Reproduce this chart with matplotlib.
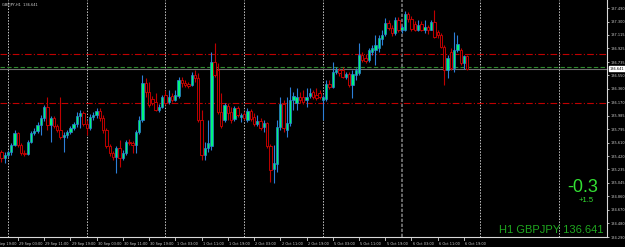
import numpy as np
import pandas as pd
import matplotlib
matplotlib.use("Agg")
import matplotlib.pyplot as plt
import matplotlib.transforms as mtransforms

# ── GBPJPY H1 bars, first bar 28 Sep 22:00 ─────────────────────────
opens = [135.48, 135.39, 135.44, 135.48, 135.58, 135.74, 135.58, 135.46, 135.45, 135.62,
         135.74, 135.77, 135.86, 135.95, 136.11, 135.86, 135.95, 135.84, 135.79, 135.69,
         135.72, 135.76, 135.81, 135.87, 135.98, 136.02, 135.87, 135.81, 135.97, 136.00,
         136.05, 135.95, 135.79, 135.56, 135.46, 135.41, 135.53, 135.39, 135.46, 135.62,
         135.60, 135.58, 135.76, 135.93, 136.44, 136.32, 136.22, 136.18, 136.07, 136.11,
         136.27, 136.18, 136.26, 136.21, 136.26, 136.48, 136.44, 136.43, 136.41, 136.55,
         136.51, 135.93, 135.44, 135.53, 135.56, 136.74, 136.62, 136.04, 135.93, 136.12,
         136.04, 135.94, 136.09, 135.97, 136.01, 135.93, 136.05, 135.97, 135.87, 135.91,
         135.83, 135.88, 135.56, 135.24, 135.31, 135.83, 136.15, 135.79, 135.88, 136.21,
         136.16, 136.25, 136.25, 136.21, 136.26, 136.32, 136.27, 136.30, 136.21, 136.22,
         136.43, 136.39, 136.60, 136.62, 136.62, 136.53, 136.57, 136.41, 136.55, 136.58,
         136.83, 136.79, 136.76, 136.88, 136.90, 136.93, 137.06, 137.13, 137.28, 137.21,
         137.14, 137.32, 137.18, 137.18, 137.41, 137.34, 137.27, 137.18, 137.27, 137.18,
         137.23, 137.18, 137.30, 137.16, 137.11, 136.95, 136.62, 136.88, 136.65, 136.90,
         136.90, 136.72, 136.82]
highs = [135.51, 135.48, 135.51, 135.60, 135.79, 135.76, 135.60, 135.51, 135.65, 135.77,
         135.81, 135.90, 136.00, 136.14, 136.25, 135.98, 135.98, 135.87, 136.25, 135.76,
         135.79, 135.84, 135.90, 136.04, 136.07, 136.05, 135.93, 136.01, 136.04, 136.09,
         136.09, 136.00, 135.81, 135.59, 135.49, 135.56, 135.65, 135.51, 135.65, 135.66,
         135.63, 135.79, 135.98, 136.55, 136.51, 136.46, 136.26, 136.30, 136.15, 136.27,
         136.34, 136.34, 136.30, 136.34, 136.53, 136.53, 136.48, 136.46, 136.60, 136.62,
         136.58, 136.07, 135.62, 135.93, 136.88, 137.00, 136.72, 136.30, 136.16, 136.16,
         136.11, 136.12, 136.12, 136.02, 136.05, 136.09, 136.08, 136.02, 136.00, 135.95,
         135.93, 135.90, 135.59, 135.58, 135.93, 136.25, 136.21, 136.25, 136.39, 136.32,
         136.37, 136.32, 136.34, 136.37, 136.37, 136.34, 136.37, 136.34, 136.27, 136.48,
         136.48, 136.74, 136.67, 136.65, 136.67, 136.60, 136.60, 136.62, 136.65, 137.00,
         136.88, 136.85, 136.93, 136.97, 137.11, 137.11, 137.18, 137.35, 137.32, 137.25,
         137.36, 137.36, 137.25, 137.45, 137.43, 137.38, 137.31, 137.32, 137.31, 137.32,
         137.25, 137.32, 137.46, 137.18, 137.14, 136.97, 136.83, 136.93, 137.16, 137.11,
         136.93, 136.83, 136.83]
lows = [135.34, 135.32, 135.41, 135.44, 135.56, 135.55, 135.44, 135.42, 135.44, 135.60,
        135.72, 135.74, 135.72, 135.91, 135.79, 135.62, 135.81, 135.76, 135.66, 135.48,
        135.67, 135.73, 135.79, 135.83, 135.81, 135.84, 135.72, 135.79, 135.93, 135.95,
        135.91, 135.74, 135.53, 135.42, 135.37, 135.18, 135.27, 135.37, 135.44, 135.58,
        135.46, 135.46, 135.73, 135.90, 136.25, 136.11, 136.14, 136.05, 136.04, 136.09,
        136.14, 136.15, 136.18, 136.19, 136.23, 136.39, 136.39, 136.37, 136.40, 136.46,
        135.90, 135.37, 135.37, 135.48, 135.51, 136.53, 136.01, 135.81, 135.90, 135.93,
        135.88, 135.91, 135.97, 135.90, 135.93, 135.90, 135.91, 135.84, 135.84, 135.79,
        135.76, 135.53, 135.06, 135.05, 135.20, 135.79, 135.76, 135.69, 135.84, 136.07,
        136.07, 136.16, 136.15, 136.11, 136.23, 136.22, 136.21, 136.22, 135.93, 136.19,
        136.36, 136.37, 136.57, 136.54, 136.51, 136.50, 136.39, 136.23, 136.48, 136.55,
        136.74, 136.72, 136.74, 136.83, 136.69, 136.88, 136.97, 137.10, 137.18, 137.10,
        137.11, 137.16, 137.14, 137.17, 137.30, 137.17, 137.17, 137.17, 137.17, 137.14,
        137.13, 137.18, 137.07, 137.07, 136.93, 136.41, 136.51, 136.62, 136.60, 136.88,
        136.69, 136.64, 136.62]
closes = [135.39, 135.44, 135.48, 135.58, 135.74, 135.58, 135.46, 135.45, 135.62, 135.74,
          135.77, 135.86, 135.95, 136.11, 135.86, 135.95, 135.84, 135.79, 135.69, 135.72,
          135.76, 135.81, 135.87, 135.98, 136.02, 135.87, 135.81, 135.97, 136.00, 136.05,
          135.95, 135.79, 135.56, 135.46, 135.41, 135.53, 135.39, 135.46, 135.62, 135.60,
          135.58, 135.76, 135.93, 136.44, 136.32, 136.14, 136.16, 136.07, 136.11, 136.25,
          136.16, 136.25, 136.21, 136.27, 136.48, 136.44, 136.41, 136.40, 136.55, 136.51,
          135.93, 135.44, 135.53, 135.60, 136.74, 136.55, 136.04, 135.84, 136.14, 136.02,
          135.93, 136.09, 136.00, 136.00, 135.95, 136.05, 135.94, 135.87, 135.91, 135.81,
          135.88, 135.56, 135.23, 135.32, 135.83, 136.15, 135.81, 135.88, 136.21, 136.26,
          136.25, 136.21, 136.18, 136.25, 136.30, 136.25, 136.23, 136.25, 136.25, 136.43,
          136.39, 136.60, 136.62, 136.58, 136.53, 136.57, 136.41, 136.57, 136.62, 136.83,
          136.76, 136.75, 136.90, 136.93, 136.97, 137.07, 137.11, 137.28, 137.21, 137.14,
          137.32, 137.18, 137.23, 137.41, 137.34, 137.20, 137.18, 137.25, 137.18, 137.23,
          137.18, 137.30, 137.09, 137.11, 136.95, 136.62, 136.79, 136.65, 136.90, 136.99,
          136.72, 136.82, 136.641]

first_bar = "2020-09-28 22:00"
bid = 136.641
level_up = 136.843
level_down = 136.158
level_green = 136.666
y_ticks = [137.490, 137.300, 137.115, 136.925, 136.735, 136.550, 136.360, 136.170,
           135.985, 135.795, 135.610, 135.420, 135.235, 135.045, 134.860, 134.670,
           134.480, 134.290]

# ── Style ──────────────────────────────────────────────────────────
BG = "black"
C_BULL = "#00F57A"
C_BULL_EDGE = "#2C7FD8"
C_BEAR_EDGE = "#C00000"
C_AXIS = "#D8D8D8"
C_TXT = "#D0D0D0"
C_INFO = "#33E033"
C_INFO2 = "#1FA71F"
FS_TICK = 2.5

# trading-hour slots (no weekend), x origin at 29 Sep 00:00
slots = pd.date_range("2020-09-28 00:00", "2020-10-08 00:00", freq="h")
slots = slots[slots.dayofweek < 5]
slot_x = np.arange(len(slots)) - slots.get_loc(pd.Timestamp("2020-09-29 00:00"))
x0 = slot_x[slots.get_loc(pd.Timestamp(first_bar))]
n = len(closes)
bx = x0 + np.arange(n)

o = np.array(opens); h = np.array(highs); l = np.array(lows); c = np.array(closes)
up = c >= o

fig = plt.figure(figsize=(6.25, 2.47), dpi=100)
fig.patch.set_facecolor(BG)
ax = fig.add_axes([0, 10 / 247, 607 / 625, 237 / 247])
ax.set_facecolor(BG)
ax.set_xlim(-2.44, 182.6)
ax.set_ylim(134.290, 137.602)

# day separators
for t, xs in zip(slots, slot_x):
    if t.hour == 0 and -2 < xs < 182:
        if t.day == 6:
            ax.axvline(xs, color="#7A7A7A", lw=1.2, ls=(0, (2, 1)), zorder=1)
        else:
            ax.axvline(xs, color="#C8C8C8", lw=0.7, ls=(0, (1.5, 1.5)), zorder=1)

# levels
ax.axhline(level_up, color="#C00000", lw=0.8, ls=(0, (6, 2, 1, 2)), zorder=1)
ax.axhline(level_down, color="#C00000", lw=0.8, ls=(0, (6, 2, 1, 2)), zorder=1)
ax.axhline(level_green, color="#2E8B2E", lw=0.8, ls=(0, (4, 2)), zorder=1)
ax.axhline(bid, color="#707070", lw=0.8, zorder=1)

# candles
ax.vlines(bx[up], l[up], h[up], color=C_BULL_EDGE, lw=0.8, zorder=2)
ax.vlines(bx[~up], l[~up], h[~up], color=C_BEAR_EDGE, lw=0.8, zorder=2)
ax.bar(bx[up], c[up] - o[up], bottom=o[up], width=0.72, color=C_BULL,
       edgecolor=C_BULL_EDGE, linewidth=0.5, zorder=3)
ax.bar(bx[~up], c[~up] - o[~up], bottom=o[~up], width=0.72, color=BG,
       edgecolor=C_BEAR_EDGE, linewidth=0.7, zorder=3)

# axes frame
for s in ["top", "left"]:
    ax.spines[s].set_visible(False)
for s in ["right", "bottom"]:
    ax.spines[s].set_color(C_AXIS)
    ax.spines[s].set_linewidth(0.8)

ax.yaxis.tick_right()
ax.set_yticks(y_ticks)
ax.set_yticklabels([f"{v:.3f}" for v in y_ticks])
ax.tick_params(axis="y", colors=C_AXIS, labelcolor=C_TXT, labelsize=FS_TICK,
               length=1.5, width=0.6, pad=1)

# time labels every 8 bars, drawn by hand so the cut first one shows
ax.set_xticks([])
tx = mtransforms.blended_transform_factory(ax.transData, ax.transAxes)
lab_start = slots.get_loc(pd.Timestamp("2020-09-28 19:00"))
last_x = bx[-1]
for k in range(lab_start, len(slots), 8):
    xs = slot_x[k]
    if xs > last_x:
        break
    ax.plot([xs, xs], [0, -0.012], color=C_AXIS, lw=0.6, transform=tx,
            clip_on=False)
    ax.text(xs + 0.4, -0.02, f"{slots[k].day} {slots[k]:%b %H:%M}",
            transform=tx, fontsize=FS_TICK, color=C_TXT, ha="left", va="top",
            clip_on=False)

# current price marker
trans = mtransforms.blended_transform_factory(ax.transAxes, ax.transData)
ax.text(1.004, bid, f"{bid:.3f}", transform=trans, fontsize=FS_TICK, color="black",
        va="center", ha="left", clip_on=False,
        bbox=dict(boxstyle="square,pad=0.2", fc="white", ec="white"))

# info texts
fig.text(0.003, 0.988, "GBPJPY,H1  136.641", fontsize=2.6, color=C_TXT,
         ha="left", va="top")
fig.text(0.957, 0.24, "-0.3", fontsize=13, color=C_INFO, ha="right",
         va="center", family="Liberation Sans")
fig.text(0.950, 0.19, "+1.5", fontsize=5.5, color=C_INFO, ha="right",
         va="center", family="Liberation Sans")
fig.text(0.965, 0.069, "H1 GBPJPY 136.641", fontsize=8, color=C_INFO2,
         ha="right", va="center", family="Liberation Sans")

fig.savefig("out.png", dpi=100, facecolor=BG)
